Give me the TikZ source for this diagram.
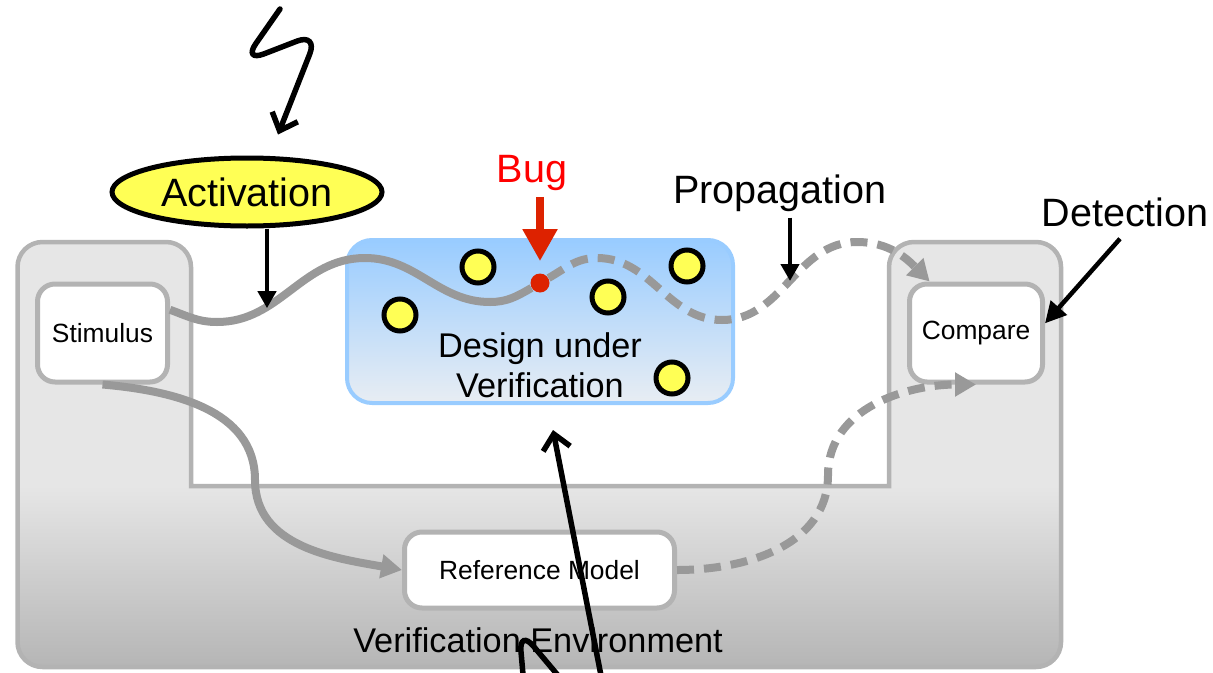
\documentclass[tikz,border=0pt]{standalone}
\usepackage{fontspec}
\setmainfont{Liberation Sans}
\usetikzlibrary{arrows.meta, calc, positioning, shapes.geometric}
\definecolor{envfill}{HTML}{E6E6E6}
\definecolor{envdark}{HTML}{B4B4B4}
\definecolor{envline}{HTML}{B3B3B3}
\definecolor{flowgray}{HTML}{999999}
\definecolor{duvtop}{HTML}{99CCFF}
\definecolor{duvbot}{HTML}{E8EDF3}
\definecolor{duvline}{HTML}{99CCFF}
\definecolor{markyellow}{HTML}{FFFF55}
\definecolor{bugred}{HTML}{DD2200}

% U-shaped outline of the environment (two pillars on a base)
\newcommand{\envoutline}{(0.35,0.6) -- (0.35,8.1) arc[start angle=180, end angle=90, radius=0.5]
  -- (3.32,8.6) arc[start angle=90, end angle=0, radius=0.5] -- (3.82,3.72) -- (17.78,3.72)
  -- (17.78,8.1) arc[start angle=180, end angle=90, radius=0.5] -- (20.72,8.6)
  arc[start angle=90, end angle=0, radius=0.5] -- (21.22,0.6) arc[start angle=0, end angle=-90, radius=0.5]
  -- (0.85,0.1) arc[start angle=270, end angle=180, radius=0.5] -- cycle}

\begin{document}
\begin{tikzpicture}[
    whitebox/.style={draw=envline, line width=0.1cm, fill=white, rounded corners=0.35cm, font=\fontsize{15}{18}\selectfont},
    duvbox/.style={draw=duvline, line width=0.08cm, rounded corners=0.5cm, top color=duvtop, bottom color=duvbot},
    dotmark/.style={circle, draw=black, line width=0.1cm, fill=markyellow, minimum size=0.64cm, inner sep=0pt},
    bigtext/.style={font=\fontsize{22.5}{27}\selectfont},
    midtext/.style={font=\fontsize{19.5}{23}\selectfont},
    flow/.style={draw=flowgray, line width=0.16cm, -{Triangle[length=0.42cm, width=0.46cm]}},
    flowdash/.style={flow, dash pattern=on 0.34cm off 0.2cm},
    pointer/.style={draw=black, line width=0.09cm, -{Triangle[length=0.34cm, width=0.36cm]}},
    squiggle/.style={draw=black, line width=0.11cm, rounded corners=0.45cm, line cap=round, -{Straight Barb[length=0.3cm, width=0.55cm]}}
]
\useasboundingbox (0,0) rectangle (24.26,13.44);

% environment: flat grey pillars, shaded base
\fill[envfill] \envoutline;
\begin{scope}
  \clip \envoutline;
  \shade[top color=envfill, bottom color=envdark] (0,0) rectangle (21.4,3.72);
\end{scope}
\draw[envline, line width=0.09cm] \envoutline;

\node[whitebox, minimum width=2.6cm, minimum height=1.96cm] (stim) at (2.05,6.78) {Stimulus};
\node[whitebox, minimum width=2.66cm, minimum height=1.96cm] (cmp) at (19.52,6.78) {Compare};
\node[whitebox, minimum width=5.4cm, minimum height=1.52cm] (ref) at (10.79,2.04) {Reference Model};
\node[midtext] (envlabel) at (10.76,0.64) {Verification Environment};

% design block with its internal states
\node[duvbox, minimum width=7.72cm, minimum height=3.26cm] (duv) at (10.8,7.01) {};
\node[midtext, align=center] (duvtext) at (10.8,6.14) {Design under\\Verification};
\foreach \x/\y [count=\i] in {9.56/8.10, 8.0/7.14, 12.16/7.5, 13.74/8.12, 13.44/5.88}
  \node[dotmark] (dot\i) at (\x,\y) {};
\node[circle, fill=bugred, minimum size=0.38cm, inner sep=0pt] (bugpt) at (10.8,7.78) {};

% signal paths
\draw[flow, -] (stim.19) to[out=-20, in=180] (4.34,7.0)
  to[out=0, in=180] coordinate[pos=0.3] (actpt) (7.3,8.28)
  to[out=0, in=180] (9.8,7.4) to[out=0, in=210] (bugpt);
\draw[flowdash] (bugpt) to[out=30, in=180] (11.94,8.28) to[out=0, in=180] (14.44,7.04)
  to[out=0, in=180] coordinate[pos=0.5] (proppt) (17.14,8.6) to[out=0, in=135] (cmp.132);
\draw[flow] (stim.south) to[out=-5, in=90] (5.1,3.84) to[out=-90, in=170] (ref.west);
\draw[flowdash] (ref.east) to[out=0, in=-90] (16.56,3.94) to[out=90, in=180] (cmp.south);

% labels and pointers
\node[ellipse, draw=black, line width=0.1cm, fill=markyellow, minimum width=5.4cm, minimum height=1.36cm, inner sep=0pt, bigtext] (act) at (4.94,9.6) {Activation};
\node[bigtext, text=red] (bug) at (10.64,9.98) {Bug};
\node[bigtext] (prop) at (15.6,9.58) {Propagation};
\node[bigtext] (det) at (22.5,9.2) {Detection};

\draw[bugred, line width=0.16cm, -{Triangle[length=0.64cm, width=0.66cm]}] (bug.south -| bugpt) -- ([yshift=0.24cm]bugpt.north);
\draw[pointer] ([xshift=0.4cm]act.south) -- ([xshift=0.4cm]act.south |- actpt);
\draw[pointer] ([xshift=0.2cm]prop.south) -- ([xshift=0.2cm]prop.south |- proppt);
\draw[pointer, -{Triangle[length=0.42cm, width=0.42cm]}] ([shift={(-0.1,-0.12)}]det.south) -- (cmp.8);

\coordinate (tailA) at (5.6,13.26);
\draw[squiggle] (tailA) -- (4.86,12.2) -- (6.36,12.78) -- ([shift={(0.62,0.42)}]act.north);
\coordinate (tailB) at (10.54,-0.96);
\draw[squiggle] (tailB) -- (10.38,0.86) -- (12.28,-1.4) -- ([shift={(0.26,-0.5)}]duv.south);
\end{tikzpicture}
\end{document}
